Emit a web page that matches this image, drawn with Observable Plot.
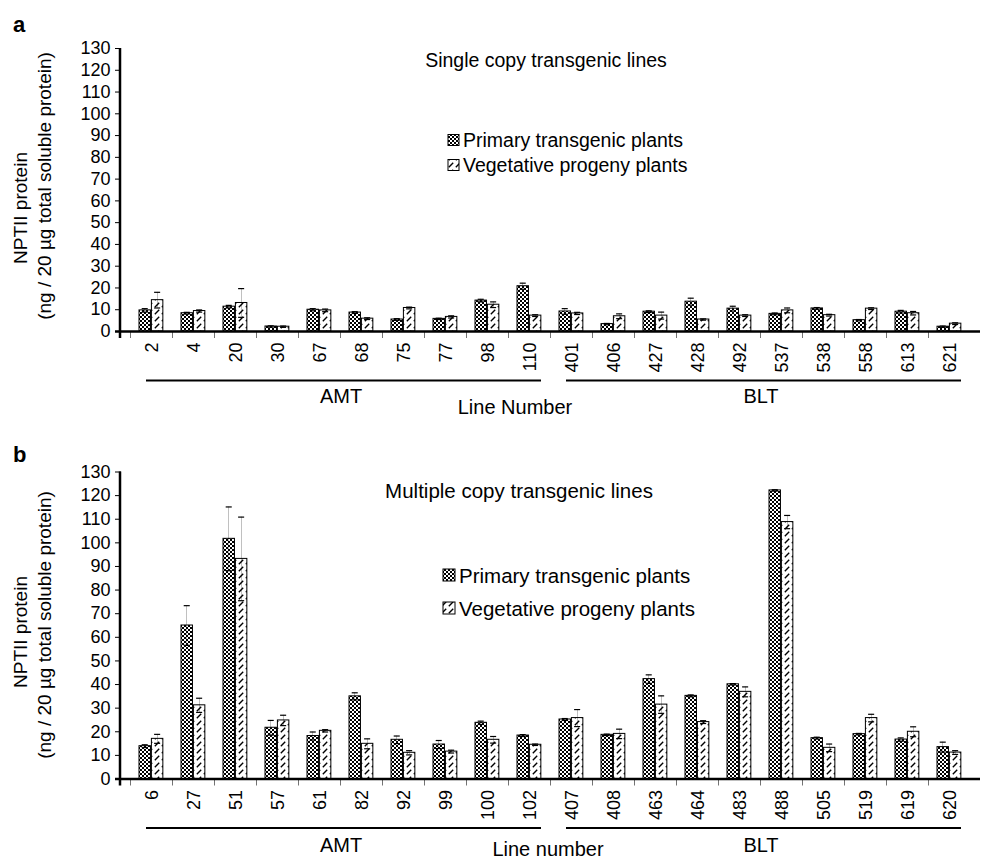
<!DOCTYPE html>
<html>
<head>
<meta charset="utf-8">
<script src="https://cdn.jsdelivr.net/npm/d3@7"></script>
<script src="https://cdn.jsdelivr.net/npm/@observablehq/plot@0.6"></script>
<style>
html,body{margin:0;padding:0;background:#fff;}
#chart{position:relative;width:981px;height:858px;overflow:hidden;background:#fff;}
#chart svg{position:absolute;left:0;display:block;}
</style>
</head>
<body>
<div id="chart"></div>
<script>
// ---------- Panel a: single copy transgenic lines ----------
const linesA = ["2","4","20","30","67","68","75","77","98","110","401","406","427","428","492","537","538","558","613","621"];
const primaryA = [9.7,8.4,11.4,2.3,10.0,8.7,5.5,5.8,14.2,20.8,9.2,3.4,9.1,13.7,10.5,8.1,10.6,5.2,9.1,2.2];
const primaryErrA = [0.8,0.4,0.6,0.3,0.5,0.4,0.4,0.3,0.6,1.4,1.3,0.3,0.4,1.6,1.1,0.4,0.4,0.3,0.6,0.3];
const vegetativeA = [14.4,9.4,13.1,2.2,9.7,5.9,10.8,6.7,12.3,7.3,8.3,7.0,7.3,5.5,7.3,9.7,7.5,10.5,8.4,3.6];
const vegetativeErrA = [3.6,0.5,6.6,0.3,0.6,0.4,0.4,0.5,1.3,0.4,0.5,1.1,1.6,0.3,0.4,1.1,0.4,0.4,0.8,0.4];

// ---------- Panel b: multiple copy transgenic lines ----------
const linesB = ["6","27","51","57","61","82","92","99","100","102","407","408","463","464","483","488","505","519","619","620"];
const primaryB = [13.9,65.0,101.7,21.7,18.2,35.0,16.6,14.6,23.8,18.4,25.2,18.7,42.3,35.2,40.1,122.2,17.3,19.0,16.7,13.5];
const primaryErrB = [0.6,8.4,13.5,3.1,1.7,1.5,1.6,1.7,0.7,0.4,0.4,0.3,1.8,0.4,0.3,0.3,0.4,0.3,0.7,2.1];
const vegetativeB = [17.0,31.2,93.2,24.8,20.4,14.9,11.1,11.6,16.6,14.5,25.8,19.1,31.5,24.1,36.9,108.8,13.2,25.8,20.0,11.2];
const vegetativeErrB = [1.9,3.0,17.7,2.2,0.5,2.1,0.9,0.6,1.4,0.3,3.6,2.0,3.7,0.6,2.1,2.8,1.6,1.6,2.1,0.8];

const groupNames = ["AMT","BLT"];
const groupSizes = [10,10];
const yTicks = [0,10,20,30,40,50,60,70,80,90,100,110,120,130];
const seriesNames = ["Primary transgenic plants","Vegetative progeny plants"];
const yTitle = ["NPTII protein","(ng / 20 µg total soluble protein)"];

const FONT = '"Liberation Sans", Arial, Helvetica, sans-serif';
const W = 981;

function drawPanel(cfg) {
  const ML = 121, MR = 1;
  const n = cfg.lines.length;
  const bw = (W - ML - MR) / n;
  const barW = 12.4, off = 8, capW = 7, ew = 1.2;
  const P = cfg.lines.map((line, i) => ({line, value: cfg.prim[i], err: cfg.primErr[i]}));
  const V = cfg.lines.map((line, i) => ({line, value: cfg.veg[i], err: cfg.vegErr[i]}));
  let k = 0;
  const groups = groupNames.map((name, g) => {
    const from = cfg.lines[k]; k += groupSizes[g];
    return {name, from, to: cfg.lines[k - 1]};
  });
  const cP = off + barW / 2, cV = off + barW * 1.5;
  const errMarks = (data, c) => [
    Plot.barY(data, {x: "line", y1: d => d.value - d.err, y2: d => d.value + d.err, fill: "#000",
      insetLeft: c - ew / 2, insetRight: bw - c - ew / 2}),
    Plot.tickY(data, {x: "line", y: d => d.value + d.err, stroke: "#000", strokeWidth: 1.2,
      insetLeft: c - capW / 2, insetRight: bw - c - capW / 2}),
    Plot.tickY(data, {x: "line", y: d => d.value - d.err, stroke: "#000", strokeWidth: 1.2,
      insetLeft: c - capW / 2, insetRight: bw - c - capW / 2})
  ];
  const plot = Plot.plot({
    width: W, height: cfg.height,
    marginTop: cfg.marginTop, marginBottom: cfg.marginBottom, marginLeft: ML, marginRight: MR,
    style: {fontFamily: FONT, fontSize: "18px", color: "#000", background: "transparent", overflow: "visible"},
    x: {domain: cfg.lines, padding: 0, label: null, tickSize: 0, tickRotate: -90, tickPadding: 11},
    y: {domain: [0, 130], ticks: yTicks, label: null, tickSize: 6, tickPadding: 5},
    marks: [
      Plot.barY(P, {x: "line", y: "value", fill: `url(#chk-${cfg.id})`, stroke: "#000", strokeWidth: 1,
        insetLeft: off, insetRight: bw - off - barW}),
      Plot.barY(V, {x: "line", y: "value", fill: `url(#dg-${cfg.id})`, stroke: "#000", strokeWidth: 1,
        insetLeft: off + barW, insetRight: bw - off - 2 * barW}),
      ...errMarks(P, cP),
      ...errMarks(V, cV),
      Plot.ruleY([0], {stroke: "#000", strokeWidth: 2.5, insetLeft: -6}),
      Plot.barY(cfg.lines, {x: d => d, y1: 0, y2: 0, insetBottom: -7, insetLeft: -0.75, insetRight: bw - 0.75, fill: "#000"}),
      Plot.ruleY(groups, {x1: "from", x2: "to", y: 0, dy: 49, stroke: "#000", strokeWidth: 2, insetLeft: 15, insetRight: 10})
    ]
  });

  const svg = d3.select(plot);
  svg.style("top", cfg.top + "px");
  const defs = svg.insert("defs", ":first-child");
  const chk = defs.append("pattern").attr("id", `chk-${cfg.id}`).attr("patternUnits", "userSpaceOnUse")
    .attr("width", 4).attr("height", 4);
  chk.append("rect").attr("width", 4).attr("height", 4).attr("fill", "#fff");
  chk.append("rect").attr("width", 2).attr("height", 2).attr("fill", "#000");
  chk.append("rect").attr("x", 2).attr("y", 2).attr("width", 2).attr("height", 2).attr("fill", "#000");
  const dg = defs.append("pattern").attr("id", `dg-${cfg.id}`).attr("patternUnits", "userSpaceOnUse")
    .attr("width", 7).attr("height", 7);
  dg.append("rect").attr("width", 7).attr("height", 7).attr("fill", "#fff");
  dg.append("path").attr("d", "M0.8,6.2L5.2,1.8").attr("stroke", "#000").attr("stroke-width", 1.4).attr("fill", "none");

  const xs = plot.scale("x"), ys = plot.scale("y");
  const y0 = ys.apply(0), yTop = ys.apply(130);
  svg.append("line").attr("x1", ML - 1).attr("x2", ML - 1).attr("y1", yTop).attr("y2", y0 + 7)
    .attr("stroke", "#000").attr("stroke-width", 2.5);

  const txt = (x, y, s, size, anchor, extra = {}) => {
    const t = svg.append("text").attr("x", x).attr("y", y).text(s)
      .attr("font-family", FONT).attr("font-size", size).attr("fill", "#000")
      .attr("text-anchor", anchor).attr("dominant-baseline", "central");
    for (const [key, v] of Object.entries(extra)) t.attr(key, v);
    return t;
  };

  // group labels under the underline
  groups.forEach(g => {
    const cx = (xs.apply(g.from) + xs.apply(g.to) + xs.bandwidth) / 2;
    txt(cx, y0 + cfg.groupDy, g.name, 20, "middle");
  });
  txt(cfg.xTitleX, y0 + cfg.xTitleDy, cfg.xTitle, 20, "middle");

  // panel letter
  svg.append("text").attr("x", 13).attr("y", cfg.letterY).text(cfg.letter)
    .attr("font-family", FONT).attr("font-size", 22).attr("font-weight", "bold").attr("text-anchor", "start");

  // y-axis title (two rotated lines)
  txt(0, 0, yTitle[0], 19, "middle", {transform: `translate(${cfg.yt1[0]},${cfg.yt1[1]}) rotate(-90)`});
  txt(0, 0, yTitle[1], 19, "middle", {transform: `translate(${cfg.yt2[0]},${cfg.yt2[1]}) rotate(-90)`});

  // chart title
  txt(cfg.titleX, cfg.titleY, cfg.title, cfg.titleSize, "middle");

  // legend
  seriesNames.forEach((s, i) => {
    const ly = cfg.legendY[i];
    const sw = cfg.swatch;
    svg.append("rect").attr("x", cfg.legendX).attr("y", ly - sw / 2).attr("width", sw).attr("height", sw)
      .attr("fill", i === 0 ? `url(#chk-${cfg.id})` : `url(#dg-${cfg.id})`).attr("stroke", "#000").attr("stroke-width", 1);
    txt(cfg.legendX + sw + 4, ly, s, cfg.legendSize, "start");
  });

  document.getElementById("chart").appendChild(plot);
}

drawPanel({
  id: "a", letter: "a", top: 0, height: 425, marginTop: 48, marginBottom: 94,
  lines: linesA, prim: primaryA, primErr: primaryErrA, veg: vegetativeA, vegErr: vegetativeErrA,
  groupDy: 65, xTitle: "Line Number", xTitleX: 515, xTitleDy: 76,
  letterY: 32, yt1: [20, 208], yt2: [44, 186],
  title: "Single copy transgenic lines", titleX: 546, titleY: 60, titleSize: 19.5,
  legendX: 448, legendY: [140, 165], swatch: 11, legendSize: 19.5
});

drawPanel({
  id: "b", letter: "b", top: 425, height: 433, marginTop: 46.5, marginBottom: 79.5,
  lines: linesB, prim: primaryB, primErr: primaryErrB, veg: vegetativeB, vegErr: vegetativeErrB,
  groupDy: 66, xTitle: "Line number", xTitleX: 548, xTitleDy: 70,
  letterY: 37, yt1: [20, 207], yt2: [44, 200],
  title: "Multiple copy transgenic lines", titleX: 519, titleY: 65, titleSize: 20.5,
  legendX: 443, legendY: [150, 183], swatch: 12, legendSize: 20.5
});
</script>
</body>
</html>
